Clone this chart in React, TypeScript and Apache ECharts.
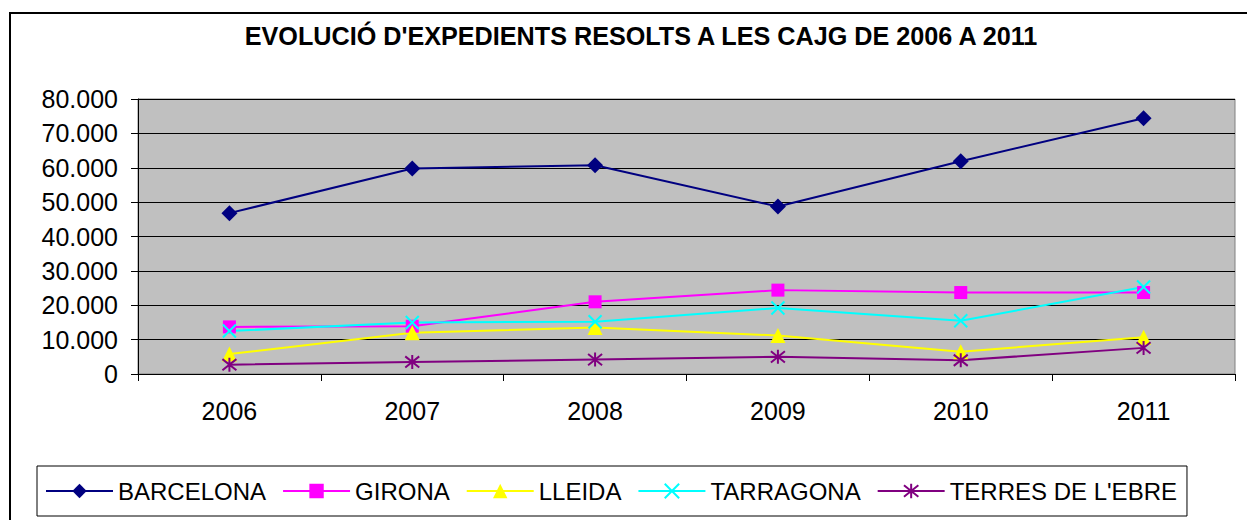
import React, { useEffect, useRef } from "react";
import * as echarts from "echarts";

const TITLE = "EVOLUCIÓ D'EXPEDIENTS RESOLTS A LES CAJG DE 2006 A 2011";
const years = ["2006", "2007", "2008", "2009", "2010", "2011"];
const barcelona = [46800, 59800, 60700, 48700, 61900, 74400];
const girona = [13700, 13900, 21000, 24400, 23700, 23700];
const lleida = [5800, 12000, 13500, 11200, 6500, 10700];
const tarragona = [12500, 15000, 15200, 19200, 15500, 25300];
const terresEbre = [2700, 3500, 4200, 5000, 4000, 7600];
const seriesNames = ["BARCELONA", "GIRONA", "LLEIDA", "TARRAGONA", "TERRES DE L'EBRE"];

const FONT = "'Liberation Sans', Arial, sans-serif";

const fmt = (v: number) =>
  v === 0 ? "0" : String(v).replace(/\B(?=(\d{3})+(?!\d))/g, ".");

export default function App() {
  const ref = useRef<HTMLDivElement>(null);
  useEffect(() => {
    if (!ref.current) return;
    const chart = echarts.init(ref.current, undefined, { renderer: "svg" });
    const mk = (
      name: string,
      data: number[],
      color: string,
      symbol: string,
      symbolSize: number,
      stroke?: boolean
    ) => ({
      name,
      type: "line",
      data,
      symbol,
      symbolSize,
      showAllSymbol: true,
      lineStyle: { color, width: 2 },
      itemStyle: stroke
        ? { color, borderColor: color, borderWidth: 2 }
        : { color, borderWidth: 0 },
      emphasis: { disabled: true },
    });
    chart.setOption({
      animation: false,
      backgroundColor: "#ffffff",
      textStyle: { fontFamily: FONT },
      title: {
        text: TITLE,
        left: 641,
        top: 23,
        padding: 0,
        textAlign: "center",
        textStyle: { fontFamily: FONT, fontSize: 25.2, fontWeight: "bold", color: "#000" },
      },
      graphic: [
        {
          type: "rect",
          shape: { x: 10, y: 13, width: 1400, height: 700 },
          style: { fill: "none", stroke: "#000", lineWidth: 2 },
          silent: true,
          z: -1,
        },
      ],
      legend: {
        data: seriesNames,
        left: 37,
        top: 466,
        width: 1152,
        orient: "horizontal",
        padding: [13, 10, 13, 8],
        itemGap: 16,
        itemWidth: 67,
        itemHeight: 18,
        borderColor: "#000",
        borderWidth: 1,
        backgroundColor: "#fff",
        textStyle: { fontFamily: FONT, fontSize: 24, color: "#000" },
      },
      grid: {
        left: 138,
        right: 12,
        top: 99,
        bottom: 146,
        show: true,
        backgroundColor: "#C0C0C0",
        borderColor: "#808080",
        borderWidth: 1,
        containLabel: false,
      },
      xAxis: {
        type: "category",
        data: years,
        boundaryGap: true,
        axisLine: { show: true, lineStyle: { color: "#000", width: 1 } },
        axisTick: { show: true, inside: false, length: 7, alignWithLabel: false, lineStyle: { color: "#000" } },
        axisLabel: { margin: 24, fontFamily: FONT, fontSize: 25, color: "#000" },
        splitLine: { show: false },
      },
      yAxis: {
        type: "value",
        min: 0,
        max: 80000,
        interval: 10000,
        axisLine: { show: true, lineStyle: { color: "#000", width: 1 } },
        axisTick: { show: true, inside: false, length: 7, lineStyle: { color: "#000" } },
        axisLabel: { margin: 20, fontFamily: FONT, fontSize: 25, color: "#000", formatter: fmt },
        splitLine: { show: true, lineStyle: { color: "#000", width: 1 } },
      },
      series: [
        mk(seriesNames[0], barcelona, "#000080", "diamond", 16),
        mk(seriesNames[1], girona, "#FF00FF", "rect", 13),
        mk(seriesNames[2], lleida, "#FFFF00", "triangle", 15),
        mk(seriesNames[3], tarragona, "#00FFFF", "path://M0,0L10,10M10,0L0,10", 13, true),
        mk(seriesNames[4], terresEbre, "#800080", "path://M5,0L5,10M1,1L9,9M1,9L9,1", 14, true),
      ],
    });
    return () => chart.dispose();
  }, []);
  return (
    <div
      ref={ref}
      style={{ position: "fixed", left: 0, top: 0, width: 1247, height: 520 }}
    />
  );
}
